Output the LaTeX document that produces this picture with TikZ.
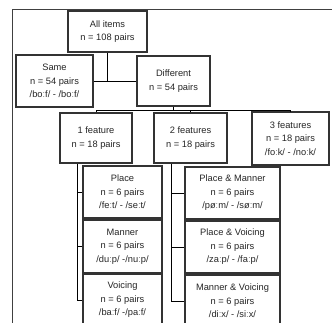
\documentclass[tikz,border=0pt]{standalone}
\usepackage{fontspec}
\setmainfont{Liberation Sans}
\usetikzlibrary{calc}
\begin{document}
\begin{tikzpicture}[x=1bp,y=-1bp,
  box/.style={draw=black!80, line width=1.1bp, fill=white, inner sep=0pt, align=center,
    font=\fontsize{9.3bp}{13.5bp}\selectfont, text=black!85},
  conn/.style={draw=black, line width=0.9bp},
  frameline/.style={draw=black!75, line width=0.9bp}]
\clip (0,0) rectangle (332,323);
\fill[white] (0,0) rectangle (332,323);
\draw[frameline] (12,323) -- (12,9) -- (332,9);

\node[box, minimum width=79bp, minimum height=41bp] (all) at (107.5,31.5) {All items\\n = 108 pairs};
\node[box, minimum width=77bp, minimum height=52bp] (same) at (54.5,81) {Same\\n = 54 pairs\\/boːf/ - /boːf/};
\node[box, minimum width=73bp, minimum height=50bp] (diff) at (173.5,81) {Different\\n = 54 pairs};
\node[box, minimum width=72bp, minimum height=50bp] (one) at (96,138) {1 feature\\n = 18 pairs};
\node[box, minimum width=73bp, minimum height=50bp] (two) at (190.5,138) {2 features\\n = 18 pairs};
\node[box, minimum width=77bp, minimum height=53bp] (three) at (290.5,138.5) {3 features\\n = 18 pairs\\/foːk/ - /noːk/};
\node[box, minimum width=79bp, minimum height=52bp] (place) at (122.5,192) {Place\\n = 6 pairs\\/feːt/ - /seːt/};
\node[box, minimum width=79bp, minimum height=53bp] (manner) at (122.5,246.5) {Manner\\n = 6 pairs\\/duːp/ -/nuːp/};
\node[box, minimum width=79bp, minimum height=52bp] (voicing) at (122.5,300) {Voicing\\n = 6 pairs\\/baːf/ -/paːf/};
\node[box, minimum width=95bp, minimum height=52bp] (pm) at (232.5,193) {Place \& Manner\\n = 6 pairs\\/pøːm/ - /søːm/};
\node[box, minimum width=95bp, minimum height=52bp] (pv) at (232.5,247) {Place \& Voicing\\n = 6 pairs\\/zaːp/ - /faːp/};
\node[box, minimum width=95bp, minimum height=52bp] (mv) at (232.5,301) {Manner \& Voicing\\n = 6 pairs\\/diːx/ - /siːx/};

\coordinate (bus) at ($(diff.south)+(0,4)$);
\draw[conn] (same.east) -- (diff.west);
\draw[conn] (all.south) -- (all.south |- same.east);
\draw[conn] (diff.south) -- (bus);
\draw[conn] (one.north) |- (bus) -| (three.north);
\draw[conn] (two.north) -- (two.north |- bus);

\coordinate (onestem) at ($(one.south west)+(18,0)$);
\coordinate (twostem) at ($(two.south west)+(18,0)$);
\draw[conn] (onestem) |- (voicing.west);
\draw[conn] (onestem |- place.west) -- (place.west);
\draw[conn] (onestem |- manner.west) -- (manner.west);
\draw[conn] (twostem) |- (mv.west);
\draw[conn] (twostem |- pm.west) -- (pm.west);
\draw[conn] (twostem |- pv.west) -- (pv.west);
\end{tikzpicture}
\end{document}
